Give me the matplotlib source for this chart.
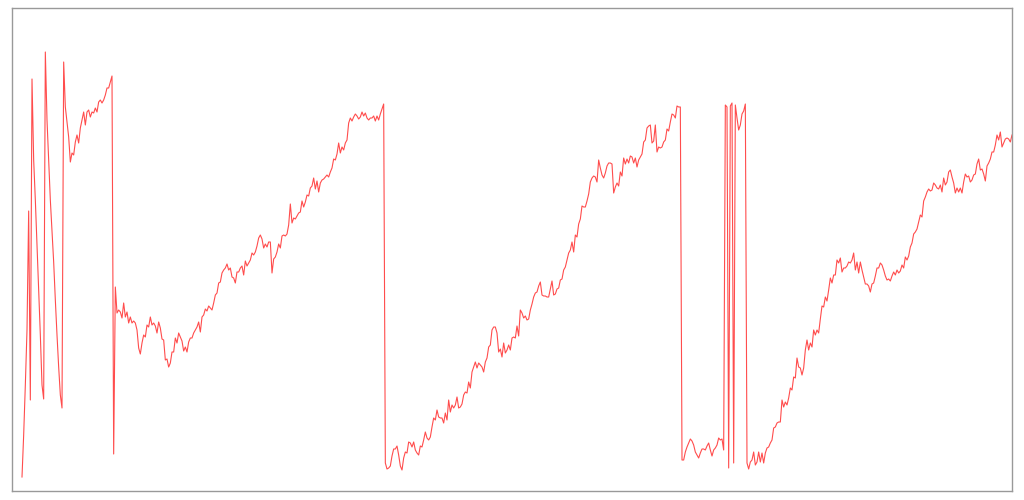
import numpy as np
import matplotlib.pyplot as plt

# readings in chart units, evenly spaced, split at each reset
seg1 = [23, 65, 115, 170, 289, 100, 421, 340, 300, 255,
        210, 165, 115, 101, 448, 380, 340, 300, 268, 238,
        200, 165, 133, 105, 92, 438, 393, 378, 363, 338,
        347, 345, 358, 365, 357, 372, 380, 388, 375, 388,
        390, 383, 388, 387, 392, 388, 398, 400, 397, 400,
        405, 412, 412, 418, 424]

seg2 = [46, 213, 187, 190, 188, 182, 197, 183, 188, 177,
        183, 177, 179, 177, 170, 152, 146, 157, 165, 163,
        175, 173, 183, 175, 177, 174, 167, 178, 172, 161,
        160, 140, 141, 133, 137, 148, 148, 162, 157, 167,
        163, 159, 149, 153, 148, 158, 162, 162, 167, 170,
        173, 178, 168, 183, 185, 191, 189, 194, 192, 190,
        197, 205, 207, 217, 218, 227, 230, 232, 236, 230,
        232, 223, 222, 217, 228, 228, 232, 234, 225, 239,
        234, 237, 240, 247, 245, 248, 254, 262, 265, 261,
        252, 256, 253, 258, 258, 227, 241, 243, 248, 256,
        252, 264, 265, 264, 266, 275, 296, 277, 282, 281,
        284, 287, 288, 299, 293, 298, 305, 304, 312, 314,
        322, 311, 319, 308, 317, 320, 321, 323, 325, 323,
        328, 332, 341, 340, 346, 357, 347, 353, 350, 357,
        360, 377, 382, 379, 383, 386, 384, 381, 383, 388,
        384, 387, 382, 380, 382, 382, 384, 379, 384, 380,
        386, 391, 396]

seg3 = [37, 31, 32, 34, 44, 51, 51, 54, 45, 34,
        30, 42, 48, 47, 58, 57, 53, 58, 50, 47,
        45, 54, 53, 60, 68, 62, 60, 63, 73, 82,
        80, 90, 83, 82, 82, 77, 87, 80, 100, 88,
        95, 92, 95, 103, 92, 93, 96, 105, 108, 107,
        118, 112, 128, 133, 138, 132, 137, 135, 133, 128,
        138, 142, 153, 155, 170, 173, 173, 167, 148, 151,
        143, 157, 147, 150, 155, 150, 162, 163, 162, 174,
        164, 190, 187, 182, 184, 180, 181, 190, 196, 203,
        207, 208, 214, 218, 205, 204, 204, 203, 203, 211,
        219, 205, 206, 211, 212, 220, 221, 230, 233, 240,
        247, 250, 258, 248, 265, 263, 276, 281, 294, 293,
        293, 299, 306, 318, 322, 324, 323, 318, 340, 332,
        325, 322, 327, 334, 337, 337, 336, 307, 313, 317,
        314, 328, 324, 342, 336, 341, 337, 344, 343, 337,
        342, 333, 340, 343, 346, 358, 360, 372, 374, 375,
        357, 359, 375, 348, 353, 352, 353, 358, 360, 371,
        369, 378, 386, 385, 382, 394, 393, 393]

seg4 = [40, 40, 48, 53, 57, 61, 59, 55, 48, 45,
        42, 47, 51, 51, 50, 54, 57, 50, 44, 50,
        52, 55, 62, 60, 61, 50, 395, 393, 32, 394,
        397, 37, 395, 382, 370, 375, 386, 389, 396]

seg5 = [37, 31, 38, 40, 48, 35, 38, 48, 38, 47,
        37, 47, 52, 53, 57, 60, 72, 73, 77, 78,
        78, 100, 93, 98, 95, 102, 112, 110, 123, 122,
        142, 133, 132, 125, 132, 150, 160, 150, 157, 153,
        170, 165, 170, 167, 181, 194, 193, 203, 199, 210,
        222, 217, 225, 225, 240, 237, 242, 228, 232, 232,
        234, 238, 237, 240, 247, 230, 238, 227, 238, 230,
        223, 216, 216, 214, 208, 216, 217, 224, 232, 232,
        237, 235, 230, 224, 220, 221, 219, 224, 228, 225,
        230, 227, 229, 235, 232, 243, 240, 244, 253, 257,
        266, 268, 271, 278, 285, 283, 299, 303, 308, 311,
        309, 310, 317, 315, 312, 311, 315, 308, 322, 315,
        318, 328, 330, 323, 317, 307, 312, 308, 312, 307,
        318, 326, 323, 324, 318, 320, 325, 326, 336, 341,
        330, 331, 326, 319, 334, 337, 341, 348, 348, 355,
        365, 360, 368, 353, 357, 361, 362, 361, 358, 365]

values = np.concatenate([seg1, seg2, seg3, seg4, seg5])
idx = np.arange(len(values))

fig = plt.figure(figsize=(10.24, 5), dpi=100)
ax = fig.add_axes([12 / 1024, 9 / 500, 1000 / 1024, 483 / 500])
ax.plot(idx, values, color='#ff4d4d', lw=0.8)

ax.set_xlim(-6, len(values) - 1)
ax.set_ylim(9, 492)
ax.set_xticks([])
ax.set_yticks([])
for s in ax.spines.values():
    s.set_color('#999999')
    s.set_linewidth(1)

fig.savefig('out.png', dpi=100)
